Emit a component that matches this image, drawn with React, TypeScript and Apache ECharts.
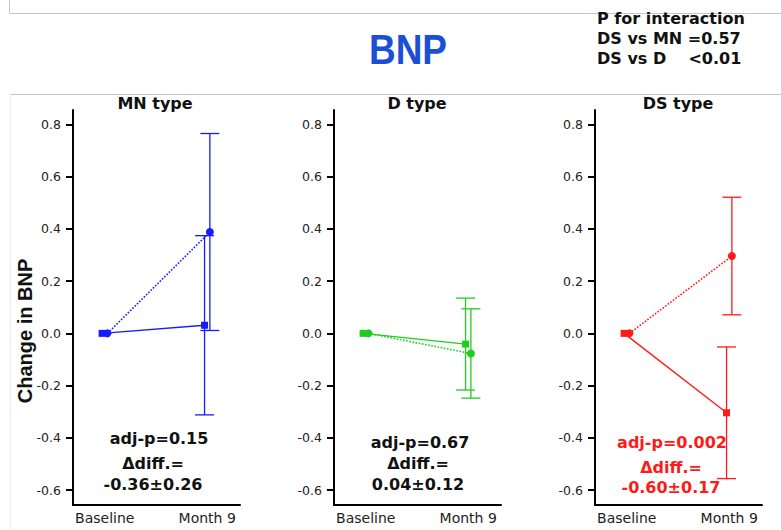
import React, { useEffect, useRef } from "react";
import * as echarts from "echarts";

// ---- data ----
const panelTitles = ["MN type", "D type", "DS type"];
const timeLabels = ["Baseline", "Month 9"];
const panelColors = ["#1a1aff", "#1fcc1f", "#ff1a1a"];
// solid line (square markers): change at month 9, mean and error
const solidMean = [0.031, -0.041, -0.304];
const solidErr = [0.343, 0.176, 0.252];
// dotted line (circle markers): change at month 9, mean and error
const dottedMean = [0.388, -0.077, 0.296];
const dottedErr = [0.377, 0.171, 0.225];
const adjPText = ["adj-p=0.15", "adj-p=0.67", "adj-p=0.002"];
const diffText = ["-0.36±0.26", "0.04±0.12", "-0.60±0.17"];
const annotationColors = ["#111111", "#111111", "#ff1a1a"];
const yTicks = [-0.6, -0.4, -0.2, 0, 0.2, 0.4, 0.6, 0.8];
const interactionLines = ["P for interaction", "DS vs MN =0.57", "DS vs D    <0.01"];

const OFF = 0.026;

export default function App() {
  const ref = useRef<HTMLDivElement>(null);
  useEffect(() => {
    if (!ref.current) return;
    const chart = echarts.init(ref.current, null, { renderer: "svg" });
    const lefts = [73, 334, 595];
    const gridW = 167;
    const gridTop = 110;
    const gridH = 395;

    const grids: any[] = [];
    const xAxes: any[] = [];
    const yAxes: any[] = [];
    const series: any[] = [];
    const graphics: any[] = [];

    panelTitles.forEach((t, i) => {
      const color = panelColors[i];
      grids.push({ left: lefts[i], top: gridTop, width: gridW, height: gridH });
      xAxes.push({
        type: "value",
        gridIndex: i,
        min: -0.31,
        max: 1.32,
        position: "bottom",
        axisLine: { show: true, onZero: false, lineStyle: { color: "#000", width: 2 } },
        axisTick: { show: false },
        splitLine: { show: false },
        axisLabel: {
          customValues: [0, 1],
          formatter: (v: number) => (v < 0.5 ? timeLabels[0] : timeLabels[1]),
          color: "#222",
          fontSize: 14,
          fontFamily: "DejaVu Sans",
          margin: 6,
        },
      });
      yAxes.push({
        type: "value",
        gridIndex: i,
        min: -0.657,
        max: 0.855,
        axisLine: { show: true, onZero: false, lineStyle: { color: "#000", width: 2 } },
        axisTick: {
          show: true,
          customValues: yTicks,
          length: 7,
          lineStyle: { color: "#000", width: 2 },
        },
        splitLine: { show: false },
        axisLabel: {
          customValues: yTicks,
          formatter: (v: number) => v.toFixed(1),
          color: "#222",
          fontSize: 12.5,
          fontFamily: "DejaVu Sans",
          margin: 12,
        },
      });
      series.push({
        type: "line",
        xAxisIndex: i,
        yAxisIndex: i,
        data: [
          [0 - OFF, 0],
          [1 - OFF, solidMean[i]],
        ],
        symbol: "rect",
        symbolSize: 7,
        itemStyle: { color },
        lineStyle: { color, width: 1.4, type: "solid" },
        z: 3,
      });
      series.push({
        type: "line",
        xAxisIndex: i,
        yAxisIndex: i,
        data: [
          [0 + OFF, 0],
          [1 + OFF, dottedMean[i]],
        ],
        symbol: "circle",
        symbolSize: 8,
        itemStyle: { color },
        lineStyle: { color, width: 1.6, type: "dotted" },
        z: 3,
      });
      series.push({
        type: "custom",
        xAxisIndex: i,
        yAxisIndex: i,
        encode: { x: 0, y: 1 },
        data: [
          [1 - OFF, solidMean[i], solidErr[i]],
          [1 + OFF, dottedMean[i], dottedErr[i]],
        ],
        z: 2,
        renderItem: (params: any, api: any) => {
          const x = api.value(0);
          const m = api.value(1);
          const e = api.value(2);
          const top = api.coord([x, m + e]);
          const bot = api.coord([x, m - e]);
          const hw = 9.5;
          const st = { stroke: color, lineWidth: 1.3 };
          return {
            type: "group",
            children: [
              { type: "line", shape: { x1: top[0], y1: top[1], x2: bot[0], y2: bot[1] }, style: st },
              { type: "line", shape: { x1: top[0] - hw, y1: top[1], x2: top[0] + hw, y2: top[1] }, style: st },
              { type: "line", shape: { x1: bot[0] - hw, y1: bot[1], x2: bot[0] + hw, y2: bot[1] }, style: st },
            ],
          };
        },
      });

      graphics.push({
        type: "text",
        x: [155, 417, 678][i],
        y: 103,
        style: {
          text: t,
          fill: "#111",
          font: "bold 16px 'DejaVu Sans'",
          textAlign: "center",
          textVerticalAlign: "middle",
        },
      });
      const ac = annotationColors[i];
      const ax = [159, 420, 672][i];
      const ax2 = [153, 418, 671][i];
      const ay = [438, 442, 442][i];
      const ay2 = [463, 463, 467][i];
      const ay3 = [484, 484, 487][i];
      const f = "bold 16px 'DejaVu Sans'";
      graphics.push({
        type: "text",
        x: ax,
        y: ay,
        style: { text: adjPText[i], fill: ac, font: f, textAlign: "center", textVerticalAlign: "middle" },
      });
      graphics.push({
        type: "text",
        x: ax2,
        y: ay2,
        style: { text: "Δdiff.=", fill: ac, font: f, textAlign: "center", textVerticalAlign: "middle" },
      });
      graphics.push({
        type: "text",
        x: ax2,
        y: ay3,
        style: { text: diffText[i], fill: ac, font: f, textAlign: "center", textVerticalAlign: "middle" },
      });
    });

    // frame lines
    const gray = "#c6c6c6";
    graphics.push({ type: "line", shape: { x1: 9.5, y1: 0, x2: 9.5, y2: 13.5 }, style: { stroke: gray, lineWidth: 1 } });
    graphics.push({ type: "line", shape: { x1: 9.5, y1: 13.5, x2: 781, y2: 13.5 }, style: { stroke: gray, lineWidth: 1 } });
    graphics.push({ type: "line", shape: { x1: 10, y1: 94.5, x2: 781, y2: 94.5 }, style: { stroke: gray, lineWidth: 1 } });
    graphics.push({ type: "line", shape: { x1: 10.5, y1: 94.5, x2: 10.5, y2: 530 }, style: { stroke: "#ececec", lineWidth: 1 } });

    // main title
    graphics.push({
      type: "text",
      x: 408,
      y: 49,
      scaleX: 0.88,
      style: {
        text: "BNP",
        fill: "#1a4fd6",
        font: "bold 42px 'Liberation Sans'",
        textAlign: "center",
        textVerticalAlign: "middle",
      },
    });
    // interaction text
    interactionLines.forEach((line, k) => {
      graphics.push({
        type: "text",
        x: 597,
        y: 18 + k * 20,
        style: {
          text: line,
          fill: "#111",
          font: "bold 16px 'DejaVu Sans'",
          textAlign: "left",
          textVerticalAlign: "middle",
        },
      });
    });
    // y-axis title
    graphics.push({
      type: "text",
      x: 25,
      y: 331,
      rotation: Math.PI / 2,
      style: {
        text: "Change in BNP",
        fill: "#111",
        font: "bold 20px 'Liberation Sans'",
        textAlign: "center",
        textVerticalAlign: "middle",
      },
    });

    chart.setOption({
      animation: false,
      backgroundColor: "#ffffff",
      grid: grids,
      xAxis: xAxes,
      yAxis: yAxes,
      series,
      graphic: graphics,
    });
    return () => chart.dispose();
  }, []);
  return (
    <div
      ref={ref}
      style={{ position: "fixed", left: 0, top: 0, width: 781, height: 530 }}
    />
  );
}
